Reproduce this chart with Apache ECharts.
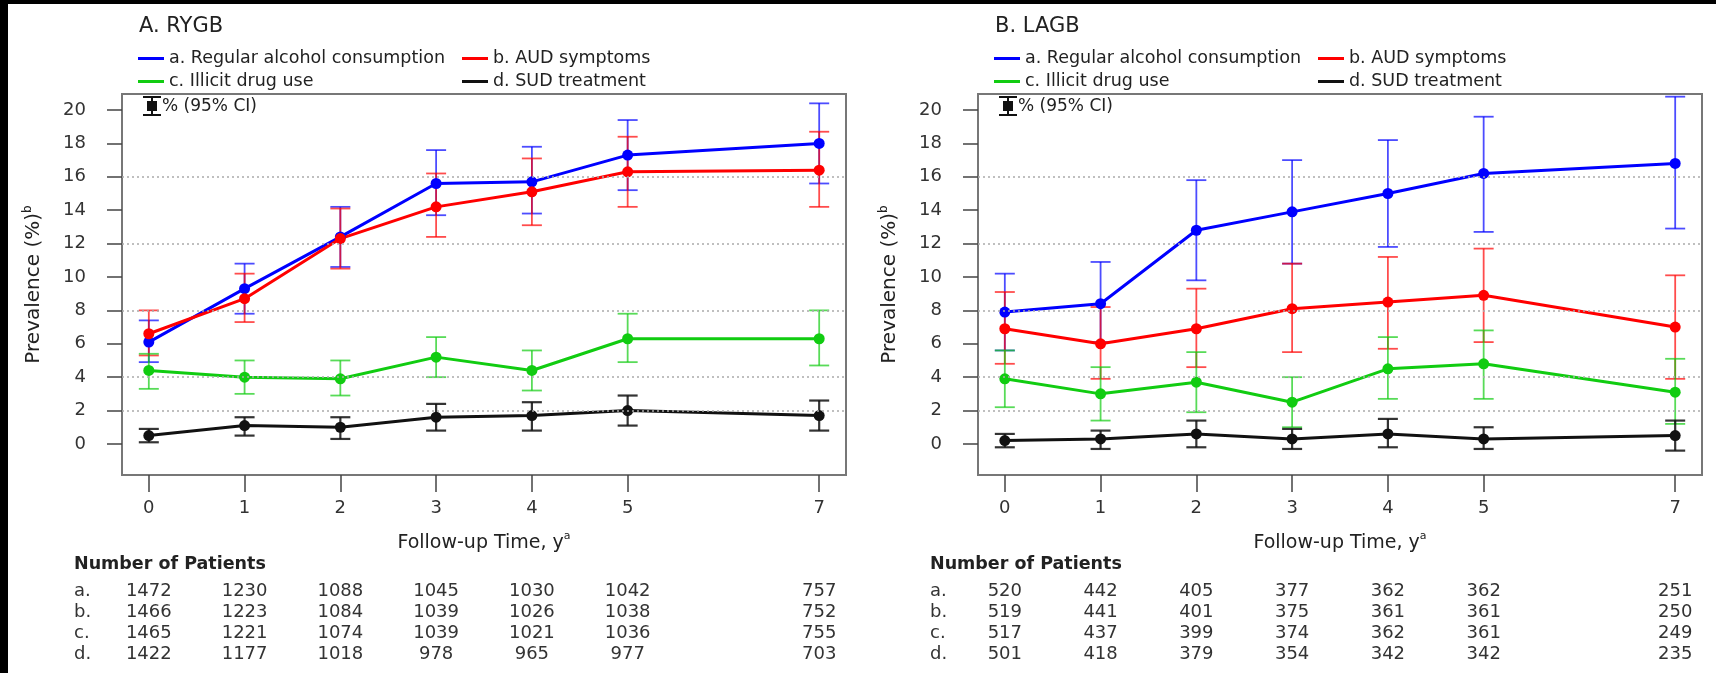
<!DOCTYPE html>
<html><head><meta charset="utf-8">
<script src="https://cdn.jsdelivr.net/npm/echarts@6/dist/echarts.min.js"></script>
<style>html,body{margin:0;padding:0;background:#fff;}#c{position:absolute;left:0;top:0;width:1716px;height:673px;}</style>
</head><body><div id="c"></div>
<script>
// ---------- data ----------
const years = [0, 1, 2, 3, 4, 5, 7];
const yTickValues = [0, 2, 4, 6, 8, 10, 12, 14, 16, 18, 20];
const dottedGridValues = [2, 4, 8, 12, 16];
const seriesNames = ['a. Regular alcohol consumption', 'b. AUD symptoms', 'c. Illicit drug use', 'd. SUD treatment'];
const rowLetters = ['a.', 'b.', 'c.', 'd.'];
const panelTitles = ['A. RYGB', 'B. LAGB'];

// Panel A: RYGB  (prevalence %, lower CI, upper CI)
const rygbAlcohol   = [6.1, 9.3, 12.4, 15.6, 15.7, 17.3, 18.0];
const rygbAlcoholLo = [4.9, 7.8, 10.6, 13.7, 13.8, 15.2, 15.6];
const rygbAlcoholHi = [7.4, 10.8, 14.2, 17.6, 17.8, 19.4, 20.4];
const rygbAud   = [6.6, 8.7, 12.3, 14.2, 15.1, 16.3, 16.4];
const rygbAudLo = [5.3, 7.3, 10.5, 12.4, 13.1, 14.2, 14.2];
const rygbAudHi = [8.0, 10.2, 14.1, 16.2, 17.1, 18.4, 18.7];
const rygbDrug   = [4.4, 4.0, 3.9, 5.2, 4.4, 6.3, 6.3];
const rygbDrugLo = [3.3, 3.0, 2.9, 4.0, 3.2, 4.9, 4.7];
const rygbDrugHi = [5.4, 5.0, 5.0, 6.4, 5.6, 7.8, 8.0];
const rygbSud   = [0.5, 1.1, 1.0, 1.6, 1.7, 2.0, 1.7];
const rygbSudLo = [0.1, 0.5, 0.3, 0.8, 0.8, 1.1, 0.8];
const rygbSudHi = [0.9, 1.6, 1.6, 2.4, 2.5, 2.9, 2.6];

// Panel B: LAGB
const lagbAlcohol   = [7.9, 8.4, 12.8, 13.9, 15.0, 16.2, 16.8];
const lagbAlcoholLo = [5.6, 6.1, 9.8, 10.8, 11.8, 12.7, 12.9];
const lagbAlcoholHi = [10.2, 10.9, 15.8, 17.0, 18.2, 19.6, 20.8];
const lagbAud   = [6.9, 6.0, 6.9, 8.1, 8.5, 8.9, 7.0];
const lagbAudLo = [4.8, 3.9, 4.6, 5.5, 5.7, 6.1, 3.9];
const lagbAudHi = [9.1, 8.2, 9.3, 10.8, 11.2, 11.7, 10.1];
const lagbDrug   = [3.9, 3.0, 3.7, 2.5, 4.5, 4.8, 3.1];
const lagbDrugLo = [2.2, 1.4, 1.9, 1.0, 2.7, 2.7, 1.2];
const lagbDrugHi = [5.6, 4.6, 5.5, 4.0, 6.4, 6.8, 5.1];
const lagbSud   = [0.2, 0.3, 0.6, 0.3, 0.6, 0.3, 0.5];
const lagbSudLo = [-0.2, -0.3, -0.2, -0.3, -0.2, -0.3, -0.4];
const lagbSudHi = [0.6, 0.8, 1.4, 0.9, 1.5, 1.0, 1.4];

// Number of patients
const rygbPatientsA = [1472, 1230, 1088, 1045, 1030, 1042, 757];
const rygbPatientsB = [1466, 1223, 1084, 1039, 1026, 1038, 752];
const rygbPatientsC = [1465, 1221, 1074, 1039, 1021, 1036, 755];
const rygbPatientsD = [1422, 1177, 1018, 978, 965, 977, 703];
const lagbPatientsA = [520, 442, 405, 377, 362, 362, 251];
const lagbPatientsB = [519, 441, 401, 375, 361, 361, 250];
const lagbPatientsC = [517, 437, 399, 374, 362, 361, 249];
const lagbPatientsD = [501, 418, 379, 354, 342, 342, 235];

// ---------- assembly ----------
const panels = [
  { est: [rygbAlcohol, rygbAud, rygbDrug, rygbSud],
    lo:  [rygbAlcoholLo, rygbAudLo, rygbDrugLo, rygbSudLo],
    hi:  [rygbAlcoholHi, rygbAudHi, rygbDrugHi, rygbSudHi],
    n:   [rygbPatientsA, rygbPatientsB, rygbPatientsC, rygbPatientsD] },
  { est: [lagbAlcohol, lagbAud, lagbDrug, lagbSud],
    lo:  [lagbAlcoholLo, lagbAudLo, lagbDrugLo, lagbSudLo],
    hi:  [lagbAlcoholHi, lagbAudHi, lagbDrugHi, lagbSudHi],
    n:   [lagbPatientsA, lagbPatientsB, lagbPatientsC, lagbPatientsD] }
];

const COLORS = ['#0000ff', '#ff0000', '#11cc11', '#111111'];
const FONT = '"DejaVu Sans", "Liberation Sans", sans-serif';
const PANEL_LEFT = [122, 978];
const GRID_TOP = 94, GRID_W = 724, GRID_H = 381;
const GRID_BOTTOM = GRID_TOP + GRID_H;
const TABLE_ROW_Y = [591, 612, 633, 654];
const TABLE_FONT = 18;

const grids = [], xAxes = [], yAxes = [], series = [], graphics = [], legends = [];

panels.forEach((p, pi) => {
  const L = PANEL_LEFT[pi];
  grids.push({ left: L, top: GRID_TOP, width: GRID_W, height: GRID_H, show: true,
    borderColor: '#777', borderWidth: 2, backgroundColor: '#fff' });
  const mainX = xAxes.length;
  xAxes.push({
    type: 'value', gridIndex: pi, min: -0.28, max: 7.28, position: 'bottom',
    name: '{t|Follow-up Time, y}{s|a}', nameLocation: 'middle', nameGap: 56,
    nameTextStyle: { rich: {
      t: { fontFamily: FONT, fontSize: 19, color: '#222', lineHeight: 24 },
      s: { fontFamily: FONT, fontSize: 11, color: '#222', verticalAlign: 'top', lineHeight: 24 } } },
    axisLine: { show: false, onZero: false },
    splitLine: { show: false },
    axisTick: { show: true, length: 17, customValues: years, lineStyle: { color: '#444', width: 1.5 } },
    axisLabel: { customValues: years, margin: 24, fontFamily: FONT, fontSize: 18, color: '#333' }
  });
  // table rows as extra label-only axes
  p.n.forEach((counts, ri) => {
    xAxes.push({
      type: 'value', gridIndex: pi, min: -0.28, max: 7.28, position: 'bottom',
      offset: TABLE_ROW_Y[ri] - GRID_BOTTOM - TABLE_FONT / 2,
      axisLine: { show: false, onZero: false }, axisTick: { show: false }, splitLine: { show: false },
      axisLabel: { customValues: years, margin: 0, fontFamily: FONT, fontSize: TABLE_FONT, color: '#333',
        formatter: v => { const k = years.indexOf(v); return k >= 0 ? String(counts[k]) : ''; } }
    });
  });
  yAxes.push({
    type: 'value', gridIndex: pi, min: -1.86, max: 20.96,
    name: '{t|Prevalence (%)}{s|b}', nameLocation: 'middle', nameGap: 76, nameRotate: 90,
    nameTextStyle: { rich: {
      t: { fontFamily: FONT, fontSize: 20, color: '#222', lineHeight: 24 },
      s: { fontFamily: FONT, fontSize: 12, color: '#222', verticalAlign: 'top', lineHeight: 24 } } },
    axisLine: { show: false, onZero: false },
    splitLine: { show: false },
    axisTick: { show: true, length: 15, customValues: yTickValues, lineStyle: { color: '#444', width: 1.5 } },
    axisLabel: { customValues: yTickValues, margin: 36, fontFamily: FONT, fontSize: 18, color: '#333' }
  });
  // dotted reference lines
  series.push({
    type: 'line', name: 'grid' + pi, xAxisIndex: mainX, yAxisIndex: pi, data: [], z: 1, silent: true,
    markLine: { symbol: 'none', silent: true, label: { show: false }, animation: false,
      lineStyle: { type: [2, 3], color: '#aaa', width: 1.5 },
      data: dottedGridValues.map(v => ({ yAxis: v })) }
  });
  p.est.forEach((vals, si) => {
    const color = COLORS[si];
    series.push({
      type: 'custom', name: 'CI ' + si + '-' + pi, xAxisIndex: mainX, yAxisIndex: pi, z: 2, silent: true,
      clip: false,
      data: years.map((x, k) => [x, p.lo[si][k], p.hi[si][k]]),
      encode: { x: 0, y: [1, 2] },
      renderItem: (params, api) => {
        const x = api.value(0);
        const a = api.coord([x, api.value(1)]);
        const b = api.coord([x, api.value(2)]);
        const w = 10;
        const st = { stroke: color, lineWidth: si === 3 ? 2.2 : 1.8, opacity: si === 3 ? 0.85 : 0.7 };
        return { type: 'group', children: [
          { type: 'line', shape: { x1: a[0], y1: a[1], x2: b[0], y2: b[1] }, style: st },
          { type: 'line', shape: { x1: a[0] - w, y1: a[1], x2: a[0] + w, y2: a[1] }, style: st },
          { type: 'line', shape: { x1: b[0] - w, y1: b[1], x2: b[0] + w, y2: b[1] }, style: st }
        ] };
      }
    });
    series.push({
      type: 'line', name: seriesNames[si], xAxisIndex: mainX, yAxisIndex: pi, z: 3,
      data: years.map((x, k) => [x, vals[k]]),
      symbol: 'circle', symbolSize: 11, showSymbol: true,
      lineStyle: { color, width: 3 }, itemStyle: { color }
    });
  });
  // legends: two columns
  const legendCommon = { orient: 'vertical', itemWidth: 26, itemHeight: 3, itemGap: 2, icon: 'rect',
    textStyle: { fontFamily: FONT, fontSize: 17.5, color: '#222', lineHeight: 21 }, selectedMode: false, padding: 0 };
  legends.push(Object.assign({}, legendCommon, { left: L + 16, top: 48, data: [seriesNames[0], seriesNames[2]] }));
  legends.push(Object.assign({}, legendCommon, { left: L + 340, top: 48, data: [seriesNames[1], seriesNames[3]] }));
  // title
  graphics.push({ type: 'text', x: L + 17, y: 27, style: { text: panelTitles[pi], font: '21px ' + FONT, fill: '#222', verticalAlign: 'middle' } });
  // CI key
  const kx = L + 30;
  graphics.push({ type: 'line', shape: { x1: kx, y1: 97, x2: kx, y2: 115 }, style: { stroke: '#111', lineWidth: 2 } });
  graphics.push({ type: 'line', shape: { x1: kx - 9, y1: 97, x2: kx + 9, y2: 97 }, style: { stroke: '#111', lineWidth: 2 } });
  graphics.push({ type: 'line', shape: { x1: kx - 9, y1: 115, x2: kx + 9, y2: 115 }, style: { stroke: '#111', lineWidth: 2 } });
  graphics.push({ type: 'rect', shape: { x: kx - 5, y: 101, width: 10, height: 10 }, style: { fill: '#111' } });
  graphics.push({ type: 'text', x: kx + 10, y: 107, style: { text: '% (95% CI)', font: '17px ' + FONT, fill: '#222', verticalAlign: 'middle' } });
  // table header and row letters
  graphics.push({ type: 'text', x: L - 48, y: 564, style: { text: 'Number of Patients', font: 'bold 17.5px ' + FONT, fill: '#222', verticalAlign: 'middle' } });
  rowLetters.forEach((t, ri) => {
    graphics.push({ type: 'text', x: L - 48, y: TABLE_ROW_Y[ri], style: { text: t, font: TABLE_FONT + 'px ' + FONT, fill: '#333', verticalAlign: 'middle' } });
  });
});

// black frame strips (top / left)
graphics.push({ type: 'rect', shape: { x: 0, y: 0, width: 1716, height: 4 }, style: { fill: '#000' }, z: 100 });
graphics.push({ type: 'rect', shape: { x: 0, y: 0, width: 8, height: 673 }, style: { fill: '#000' }, z: 100 });

const chart = echarts.init(document.getElementById('c'), null, { renderer: 'canvas' });
chart.setOption({
  backgroundColor: '#fff',
  animation: false,
  grid: grids, xAxis: xAxes, yAxis: yAxes, legend: legends, series, graphic: graphics
});
</script></body></html>
